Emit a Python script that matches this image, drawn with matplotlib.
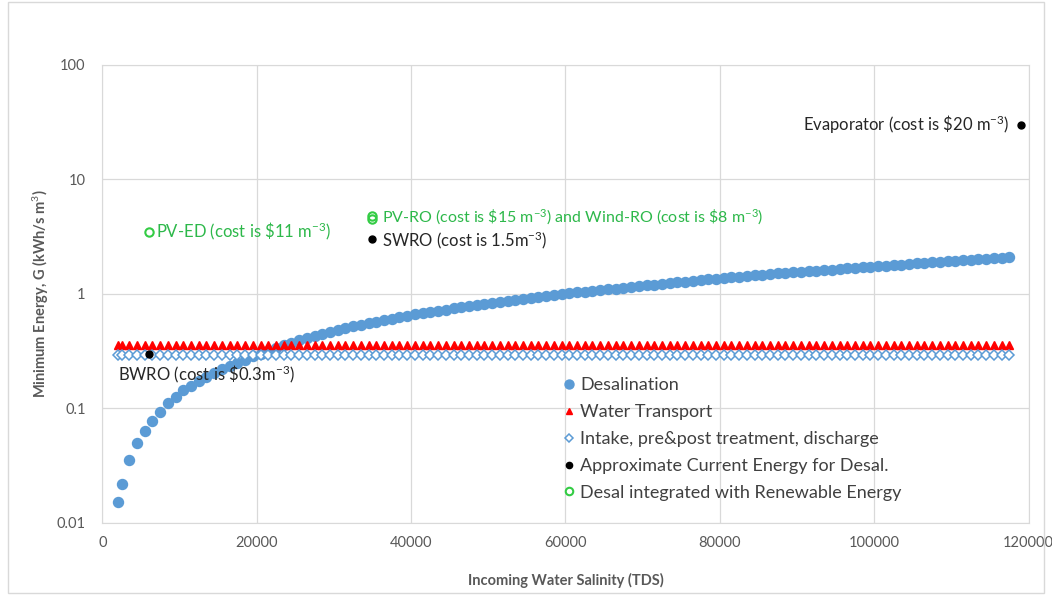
import matplotlib.pyplot as plt
from matplotlib.ticker import FixedLocator, FixedFormatter, NullLocator
from matplotlib.patches import Rectangle

plt.rcParams['font.family'] = ['Lato', 'DejaVu Sans']
plt.rcParams['mathtext.fontset'] = 'custom'
plt.rcParams['mathtext.rm'] = 'Lato'
plt.rcParams['mathtext.it'] = 'Lato'

# salinidad (TDS) de la serie de desalacion
salinidad = [2000, 2500] + list(range(3500, 118500, 1000))

energia_desal = [
    0.0152, 0.0218, 0.0353, 0.0494, 0.0637, 0.078, 0.093, 0.111, 0.126, 0.143,
    0.157, 0.172, 0.188, 0.203, 0.219, 0.234, 0.250, 0.266, 0.283, 0.299,
    0.318, 0.338, 0.357, 0.375, 0.393, 0.411, 0.429, 0.447, 0.466, 0.485,
    0.501, 0.520, 0.536, 0.555, 0.572, 0.591, 0.608, 0.628, 0.644, 0.660,
    0.676, 0.693, 0.709, 0.725, 0.746, 0.763, 0.779, 0.795, 0.817, 0.833,
    0.850, 0.866, 0.888, 0.905, 0.921, 0.938, 0.955, 0.977, 0.994, 1.010,
    1.027, 1.044, 1.060, 1.077, 1.094, 1.111, 1.127, 1.144, 1.161, 1.184,
    1.201, 1.218, 1.242, 1.259, 1.276, 1.300, 1.318, 1.342, 1.359, 1.377,
    1.394, 1.411, 1.428, 1.445, 1.462, 1.488, 1.505, 1.522, 1.539, 1.557,
    1.574, 1.591, 1.608, 1.625, 1.643, 1.669, 1.687, 1.704, 1.721, 1.749,
    1.766, 1.784, 1.801, 1.829, 1.846, 1.864, 1.881, 1.910, 1.927, 1.945,
    1.962, 1.980, 2.009, 2.027, 2.044, 2.062, 2.080,
]

energia_transporte = 0.36
energia_toma = 0.29

# puntos de energia actual (negro)
actual_x = [6000, 35000, 119000]
actual_y = [0.30, 3.0, 30.0]

# puntos con energia renovable (verde)
renovable_x = [6000, 35000, 35000]
renovable_y = [3.5, 4.5, 4.8]

ticks_y = [0.01, 0.1, 1, 10, 100]
etiquetas_y = ['0.01', '0.1', '1', '10', '100']
ticks_x = [0, 20000, 40000, 60000, 80000, 100000, 120000]

azul = '#5B9BD5'
verde = '#2DB84A'
gris = '#595959'

fig = plt.figure(figsize=(10.52, 5.95), dpi=100)
fig.patches.append(Rectangle((8 / 1052, 0.004), 1 - 16 / 1052, 0.992,
                             transform=fig.transFigure, fill=False,
                             edgecolor='#d9d9d9', linewidth=1))
ax = fig.add_axes([0.0972, 0.1217, 0.8806, 0.7691])

ax.plot(salinidad, energia_desal, 'o', color=azul, markersize=7.2,
        linestyle='none', label='Desalination', zorder=3)
ax.plot(salinidad, [energia_transporte] * len(salinidad), '^', color='red',
        markersize=5.5, linestyle='none', label='Water Transport', zorder=4)
ax.plot(salinidad, [energia_toma] * len(salinidad), 'D', markerfacecolor='white',
        markeredgecolor=azul, markeredgewidth=1.1, markersize=4.6,
        linestyle='none', label='Intake, pre&post treatment, discharge', zorder=4)
ax.plot(actual_x, actual_y, 'o', color='black', markersize=5,
        linestyle='none', label='Approximate Current Energy for Desal.', zorder=5)
ax.plot(renovable_x, renovable_y, 'o', markerfacecolor='none',
        markeredgecolor='#33CC44', markeredgewidth=1.5, markersize=6,
        linestyle='none', label='Desal integrated with Renewable Energy', zorder=5)

ax.set_yscale('log')
ax.set_ylim(0.01, 100)
ax.set_xlim(0, 120000)
ax.yaxis.set_major_locator(FixedLocator(ticks_y))
ax.yaxis.set_major_formatter(FixedFormatter(etiquetas_y))
ax.yaxis.set_minor_locator(NullLocator())
ax.set_xticks(ticks_x)
ax.set_xticklabels([str(t) for t in ticks_x])
ax.tick_params(length=0, labelsize=10.5, labelcolor=gris)
ax.tick_params(axis='y', pad=12)
ax.tick_params(axis='x', pad=10)
ax.grid(True, color='#d9d9d9', linewidth=0.9)
ax.set_axisbelow(True)
for s in ax.spines.values():
    s.set_color('#d9d9d9')

ax.set_xlabel('Incoming Water Salinity (TDS)', fontsize=10.5, fontweight='bold',
              color=gris, labelpad=16)
ax.set_ylabel('Minimum Energy, G (kWh/s m$^3$)', fontsize=10.5, fontweight='bold',
              color=gris, labelpad=4)

# anotaciones
ax.text(117500, 30, r'Evaporator (cost is \$20 m$^{-3}$)', fontsize=12,
        color='#262626', ha='right', va='center')
ax.text(7000, 3.5, r'PV-ED (cost is \$11 m$^{-3}$)', fontsize=12,
        color=verde, ha='left', va='center')
ax.text(36200, 4.7, r'PV-RO (cost is \$15 m$^{-3}$) and Wind-RO (cost is \$8 m$^{-3}$)',
        fontsize=11.5, color=verde, ha='left', va='center')
ax.text(36200, 2.95, r'SWRO (cost is 1.5m$^{-3}$)', fontsize=12,
        color='#262626', ha='left', va='center')
ax.text(2000, 0.20, r'BWRO (cost is \$0.3m$^{-3}$)', fontsize=12,
        color='#262626', ha='left', va='center')

ax.legend(loc='upper left', bbox_to_anchor=(0.485, 0.333), frameon=False,
          fontsize=13, handletextpad=0.1, handlelength=1.1, labelspacing=0.6,
          markerscale=0.9, labelcolor='#404040', borderaxespad=0)

fig.savefig('out.png', dpi=100)
